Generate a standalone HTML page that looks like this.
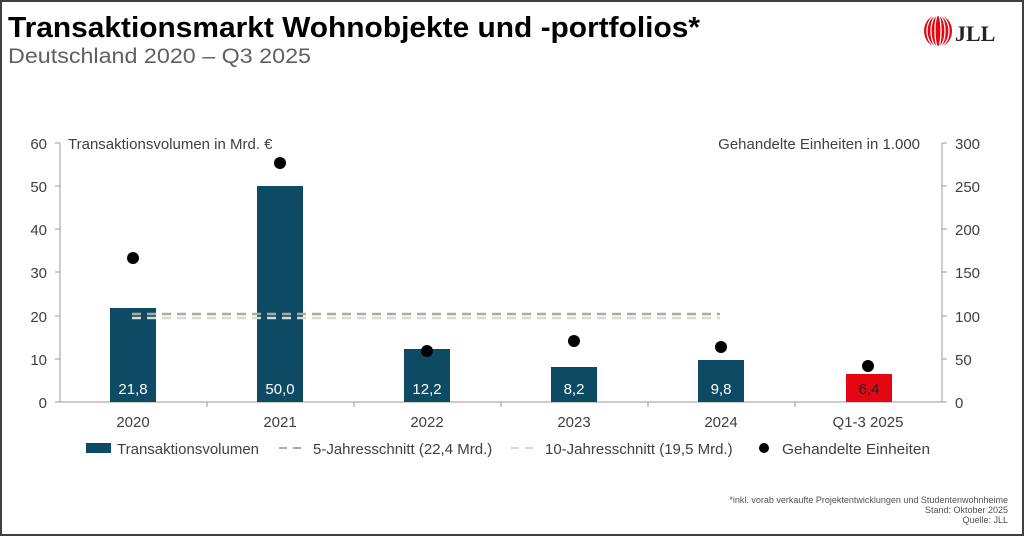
<!DOCTYPE html>
<html><head><meta charset="utf-8"><style>
body{margin:0;background:#fff}
svg{display:block;font-family:"Liberation Sans",Arial,sans-serif}
</style></head><body>
<svg width="1024" height="536" viewBox="0 0 1024 536">
<rect x="1" y="1" width="1022" height="534" fill="#fff" stroke="#404040" stroke-width="2"/>
<text x="8" y="37" font-size="29" font-weight="bold" fill="#000" textLength="692" lengthAdjust="spacingAndGlyphs">Transaktionsmarkt Wohnobjekte und -portfolios*</text>
<text x="8" y="63" font-size="21" fill="#606060" textLength="303" lengthAdjust="spacingAndGlyphs">Deutschland 2020 – Q3 2025</text>
<g>
<ellipse cx="938" cy="31" rx="14" ry="16" fill="#e30613"/>
<g stroke="#fff" stroke-width="1.3" fill="none">
<ellipse cx="938" cy="31" rx="3" ry="16"/><ellipse cx="938" cy="31" rx="7" ry="16"/><ellipse cx="938" cy="31" rx="11" ry="16"/></g>
<text x="955" y="41" font-size="22" font-weight="bold" font-family="Liberation Serif,serif" fill="#222">JLL</text>
</g>
<g font-size="15" fill="#404040">
<line x1="60" y1="143" x2="60" y2="402" stroke="#999"/>
<line x1="942" y1="143" x2="942" y2="402" stroke="#999"/>
<line x1="60" y1="402" x2="942" y2="402" stroke="#999"/>
<g stroke="#999">
<line x1="55" y1="143" x2="60" y2="143"/><line x1="55" y1="186" x2="60" y2="186"/><line x1="55" y1="229" x2="60" y2="229"/><line x1="55" y1="272" x2="60" y2="272"/><line x1="55" y1="316" x2="60" y2="316"/><line x1="55" y1="359" x2="60" y2="359"/><line x1="55" y1="402" x2="60" y2="402"/>
<line x1="942" y1="143" x2="947" y2="143"/><line x1="942" y1="186" x2="947" y2="186"/><line x1="942" y1="229" x2="947" y2="229"/><line x1="942" y1="272" x2="947" y2="272"/><line x1="942" y1="316" x2="947" y2="316"/><line x1="942" y1="359" x2="947" y2="359"/><line x1="942" y1="402" x2="947" y2="402"/>
<line x1="207" y1="402" x2="207" y2="407"/><line x1="354" y1="402" x2="354" y2="407"/><line x1="501" y1="402" x2="501" y2="407"/><line x1="648" y1="402" x2="648" y2="407"/><line x1="795" y1="402" x2="795" y2="407"/>
</g>
<g text-anchor="end">
<text x="47" y="149">60</text><text x="47" y="192">50</text><text x="47" y="235">40</text><text x="47" y="278">30</text><text x="47" y="322">20</text><text x="47" y="365">10</text><text x="47" y="408">0</text>
</g>
<g>
<text x="955" y="149">300</text><text x="955" y="192">250</text><text x="955" y="235">200</text><text x="955" y="278">150</text><text x="955" y="322">100</text><text x="955" y="365">50</text><text x="955" y="408">0</text>
</g>
<text x="68" y="149">Transaktionsvolumen in Mrd. €</text>
<text x="920" y="149" text-anchor="end">Gehandelte Einheiten in 1.000</text>
</g>
<g fill="#0d4a63">
<rect x="110" y="308" width="46" height="94"/>
<rect x="257" y="186" width="46" height="216"/>
<rect x="404" y="349" width="46" height="53"/>
<rect x="551" y="367" width="46" height="35"/>
<rect x="698" y="360" width="46" height="42"/>
</g>
<rect x="846" y="374" width="46" height="28" fill="#e30613"/>
<line x1="132" y1="314" x2="720" y2="314" stroke="#aaa" stroke-width="2.5" stroke-dasharray="9,6"/>
<line x1="132" y1="318" x2="720" y2="318" stroke="#d5dccb" stroke-width="2.5" stroke-dasharray="9,6"/>
<g font-size="15" fill="#fff" text-anchor="middle">
<text x="133" y="394">21,8</text><text x="280" y="394">50,0</text><text x="427" y="394">12,2</text><text x="574" y="394">8,2</text><text x="721" y="394">9,8</text>
<text x="869" y="394" fill="#222">6,4</text>
</g>
<g fill="#000">
<circle cx="133" cy="258" r="6"/><circle cx="280" cy="163" r="6"/><circle cx="427" cy="351" r="6"/><circle cx="574" cy="341" r="6"/><circle cx="721" cy="347" r="6"/><circle cx="868" cy="366" r="6"/>
</g>
<g font-size="15" fill="#404040" text-anchor="middle">
<text x="133" y="427">2020</text><text x="280" y="427">2021</text><text x="427" y="427">2022</text><text x="574" y="427">2023</text><text x="721" y="427">2024</text><text x="868" y="427">Q1-3 2025</text>
</g>
<g font-size="15" fill="#404040">
<rect x="86" y="443" width="25" height="10" fill="#0d4a63"/>
<text x="117" y="454">Transaktionsvolumen</text>
<line x1="279" y1="448" x2="305" y2="448" stroke="#aaa" stroke-width="2" stroke-dasharray="8,6"/>
<text x="313" y="454">5-Jahresschnitt (22,4 Mrd.)</text>
<line x1="511" y1="448" x2="537" y2="448" stroke="#d5dccb" stroke-width="2" stroke-dasharray="8,6"/>
<text x="545" y="454">10-Jahresschnitt (19,5 Mrd.)</text>
<circle cx="764" cy="448" r="5" fill="#000"/>
<text x="782" y="454" textLength="148" lengthAdjust="spacingAndGlyphs">Gehandelte Einheiten</text>
</g>
<g font-size="9" fill="#505050" text-anchor="end">
<text x="1008" y="503">*inkl. vorab verkaufte Projektentwicklungen und Studentenwohnheime</text>
<text x="1008" y="513">Stand: Oktober 2025</text>
<text x="1008" y="523">Quelle: JLL</text>
</g>
</svg>
</body></html>
